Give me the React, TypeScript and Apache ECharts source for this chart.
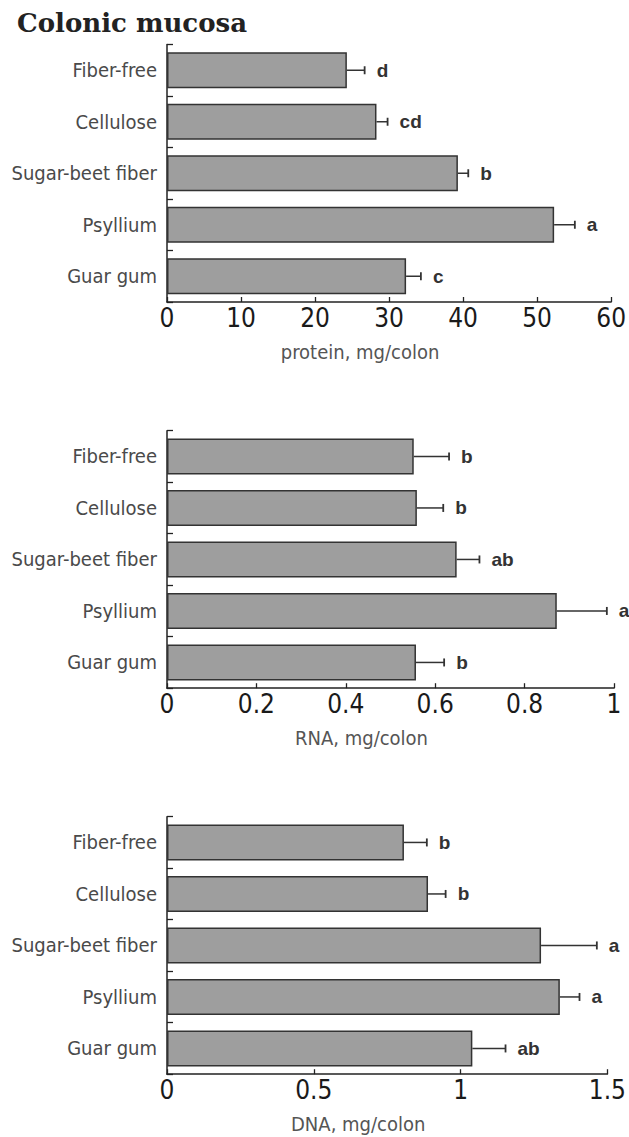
import React, { useEffect, useRef } from "react";
import * as echarts from "echarts";

const categories = ["Fiber-free", "Cellulose", "Sugar-beet fiber", "Psyllium", "Guar gum"];

const proteinMean = [24.3, 28.3, 39.3, 52.3, 32.3];
const proteinErr = [2.4, 1.5, 1.4, 2.8, 2.0];
const proteinLetters = ["d", "cd", "b", "a", "c"];

const rnaMean = [0.552, 0.559, 0.648, 0.872, 0.557];
const rnaErr = [0.079, 0.059, 0.051, 0.112, 0.063];
const rnaLetters = ["b", "b", "ab", "a", "b"];

const dnaMean = [0.807, 0.889, 1.274, 1.338, 1.04];
const dnaErr = [0.078, 0.06, 0.19, 0.067, 0.113];
const dnaLetters = ["b", "b", "a", "a", "ab"];

const panels = [
  { name: "protein, mg/colon", max: 60, interval: 10, mean: proteinMean, err: proteinErr, letters: proteinLetters },
  { name: "RNA, mg/colon", max: 1, interval: 0.2, mean: rnaMean, err: rnaErr, letters: rnaLetters },
  { name: "DNA, mg/colon", max: 1.5, interval: 0.5, mean: dnaMean, err: dnaErr, letters: dnaLetters },
];

const gridTops = [44.5, 430.7, 816.7];
const LABEL_FONT = "'DejaVu Sans Condensed', 'Liberation Sans Narrow', 'DejaVu Sans', sans-serif";
const TICK_FONT = "'Liberation Sans Narrow', 'DejaVu Sans Condensed', sans-serif";
const LETTER_FONT = "'Liberation Sans', Arial, sans-serif";

export default function App() {
  const ref = useRef<HTMLDivElement>(null);
  useEffect(() => {
    if (!ref.current) return;
    const chart = echarts.init(ref.current, null, { renderer: "svg" });
    const grids = gridTops.map((t) => ({ left: 167, width: 447, top: t, height: 257.5 }));
    const xAxes = panels.map((p, i) => ({
      type: "value",
      gridIndex: i,
      min: 0,
      max: p.max,
      interval: p.interval,
      name: p.name,
      nameLocation: "middle",
      nameGap: 40,
      nameTextStyle: { fontFamily: LABEL_FONT, fontSize: 20, color: "#555", padding: [0, 58, 0, 0] },
      axisLine: { show: true, lineStyle: { color: "#222", width: 1.5 } },
      axisTick: { show: true, inside: true, length: 5, lineStyle: { color: "#222", width: 1.3 } },
      axisLabel: { margin: 3, fontFamily: TICK_FONT, fontSize: 26, color: "#1a1a1a" },
      splitLine: { show: false },
    }));
    const yAxes = panels.map((_, i) => ({
      type: "category",
      gridIndex: i,
      data: categories,
      inverse: true,
      axisLine: { show: true, lineStyle: { color: "#222", width: 1.5 } },
      axisTick: { show: true, inside: true, length: 6, lineStyle: { color: "#222", width: 1.3 } },
      axisLabel: { margin: 10, fontFamily: LABEL_FONT, fontSize: 20, color: "#4a4a4a", padding: [0, 0, 4, 0] },
    }));
    const series: any[] = [];
    panels.forEach((p, i) => {
      series.push({
        type: "bar",
        xAxisIndex: i,
        yAxisIndex: i,
        data: p.mean,
        barWidth: 36,
        itemStyle: { color: "#9e9e9e", borderColor: "#333", borderWidth: 1.5 },
        z: 2,
      });
      series.push({
        type: "custom",
        xAxisIndex: i,
        yAxisIndex: i,
        z: 3,
        data: p.mean.map((m, k) => [k, m, p.err[k]]),
        encode: { x: 1, y: 0 },
        renderItem: (params: any, api: any) => {
          const k = api.value(0);
          const m = api.value(1);
          const e = api.value(2);
          const s = api.coord([m, k]);
          const end = api.coord([m + e, k]);
          return {
            type: "group",
            children: [
              { type: "line", shape: { x1: s[0], y1: s[1], x2: end[0], y2: end[1] }, style: { stroke: "#333", lineWidth: 1.5 } },
              { type: "line", shape: { x1: end[0], y1: end[1] - 4, x2: end[0], y2: end[1] + 4 }, style: { stroke: "#333", lineWidth: 1.8 } },
              {
                type: "text",
                x: end[0] + 12,
                y: end[1],
                style: {
                  text: p.letters[params.dataIndex],
                  fill: "#333",
                  fontSize: 19,
                  fontWeight: "bold",
                  fontFamily: LETTER_FONT,
                  align: "left",
                  verticalAlign: "middle",
                },
              },
            ],
          };
        },
      });
    });
    chart.setOption({
      animation: false,
      backgroundColor: "#fff",
      title: {
        text: "Colonic mucosa",
        left: 12,
        top: 5,
        textStyle: { fontFamily: "'DejaVu Serif', serif", fontWeight: "bold", fontSize: 26, color: "#222" },
      },
      grid: grids,
      xAxis: xAxes,
      yAxis: yAxes,
      series,
    });
    return () => chart.dispose();
  }, []);
  return <div ref={ref} style={{ position: "absolute", left: 0, top: 0, width: 629, height: 1137 }} />;
}
